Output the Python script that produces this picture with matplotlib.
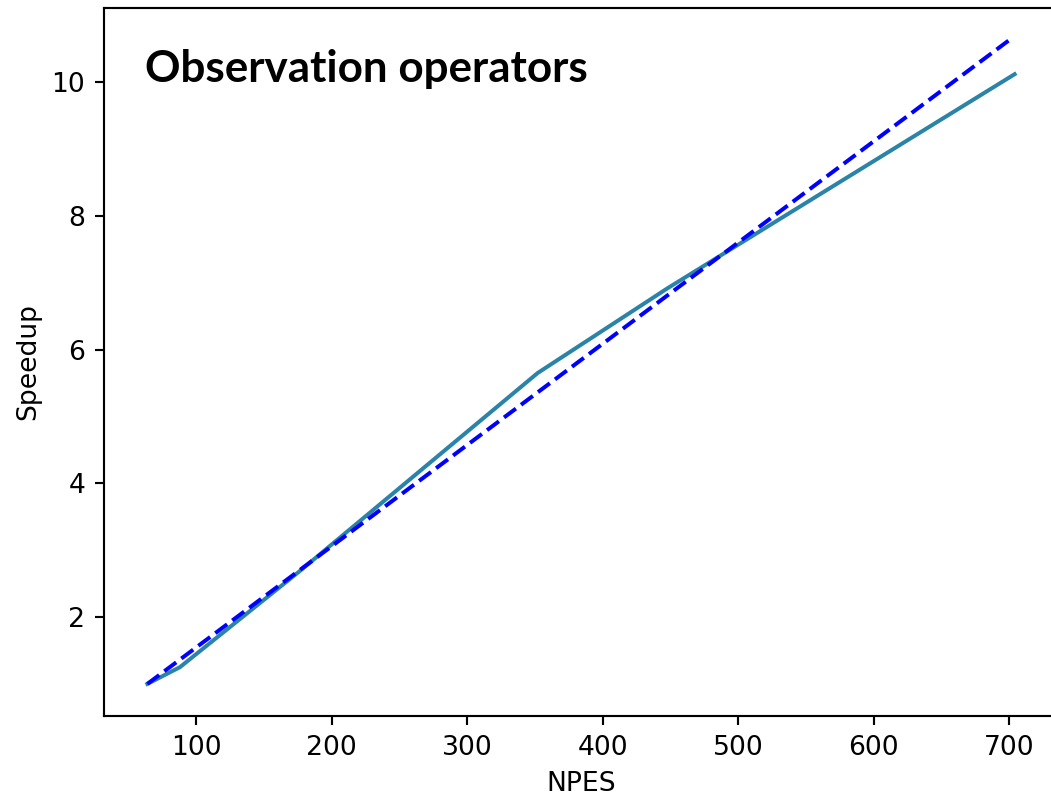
import matplotlib
matplotlib.use("Agg")
import matplotlib.pyplot as plt

# measured speedup vs. number of PEs
npes = [64, 88, 176, 352, 448, 704]
speedup = [1.0, 1.25, 2.68, 5.65, 6.92, 10.12]

# ideal / reference line
ideal_npes = [64, 700]
ideal_speedup = [1.0, 10.63]

title = "Observation operators"


def plot_speedup(out_path: str = "out.png") -> None:
    plt.rcParams["font.family"] = ["DejaVu Sans"]
    dpi = 192
    fig = plt.figure(figsize=(1051 / dpi, 796 / dpi), dpi=dpi)
    ax = fig.add_axes([104 / 1051, 80 / 796, (1058 - 104) / 1051, (716 - 8) / 796])

    ax.plot(npes, speedup, color="#2a84a8", linewidth=1.5)
    ax.plot(ideal_npes, ideal_speedup, "b--", linewidth=1.5)

    ax.set_xlim(32, 736)
    ax.set_ylim(0.52, 11.11)
    ax.set_xticks([100, 200, 300, 400, 500, 600, 700])
    ax.set_yticks([2, 4, 6, 8, 10])
    ax.set_xlabel("NPES")
    ax.set_ylabel("Speedup")
    ax.spines["right"].set_visible(False)

    fig.text(145 / 1051, 1 - 82 / 796, title, fontsize=16.5, fontweight="bold",
             family="Lato", color="black", ha="left", va="baseline")

    fig.savefig(out_path, dpi=dpi)


if __name__ == "__main__":
    plot_speedup()
